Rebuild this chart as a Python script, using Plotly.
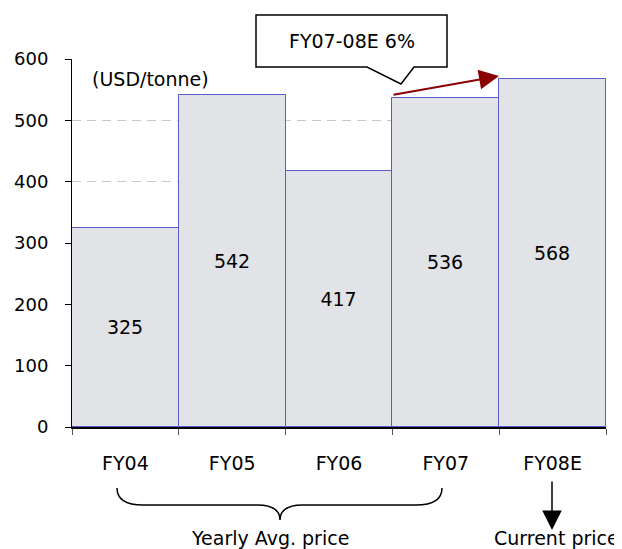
import plotly.graph_objects as go

categories = ["FY04", "FY05", "FY06", "FY07", "FY08E"]
prices = [325, 542, 417, 536, 568]
y_ticks = [0, 100, 200, 300, 400, 500, 600]
callout_text = "FY07-08E 6%"
unit_text = "(USD/tonne)"
brace_text = "Yearly Avg. price"
current_text = "Current price"

# page body has an 8px margin; size the figure so the plot lands where it should
OFF = 8
W, H = 622 - OFF, 549 - OFF
PL, PR, PT, PB = 72, 606, 59, 427          # plot area in window pixels
L, T = PL - OFF, PT - OFF
R, B = W - (PR - OFF), H - (PB - OFF)
PW, PH = PR - PL, PB - PT

def px(x):
    return (x - PL) / PW

def py(y):
    return (PB - y) / PH

FONT = "DejaVu Sans"

fig = go.Figure()
fig.add_trace(go.Bar(
    x=categories, y=prices,
    marker=dict(color="#E1E3E7", line=dict(color="#5A5AC8", width=1)),
    text=[str(v) for v in prices],
    textposition="inside", insidetextanchor="middle",
    textfont=dict(family=FONT, size=19, color="black"),
    hoverinfo="skip",
))

fig.update_layout(
    width=W, height=H,
    margin=dict(l=L, r=R, t=T, b=B, pad=0),
    paper_bgcolor="white", plot_bgcolor="white",
    bargap=0, showlegend=False,
    font=dict(family=FONT, size=19, color="black"),
)
fig.update_xaxes(
    type="category", showline=True, linecolor="black", linewidth=1.5,
    ticks="outside", ticklen=6, tickcolor="#555555", tickson="boundaries",
    showgrid=False, ticklabelstandoff=18, layer="above traces", automargin=False,
    tickfont=dict(family=FONT, size=19, color="black"),
)
fig.update_yaxes(
    range=[0, 600], tickvals=y_ticks, showline=True, linecolor="black", linewidth=1,
    ticks="outside", ticklen=6, tickcolor="black", zeroline=False,
    showgrid=True, gridcolor="#C8C8C8", griddash="9px,6px", gridwidth=1,
    ticklabelstandoff=13, layer="above traces", automargin=False,
    tickfont=dict(family=FONT, size=18, color="black"),
)

# callout box with pointer
callout = ("M{:.5f},{:.5f} L{:.5f},{:.5f} L{:.5f},{:.5f} L{:.5f},{:.5f} L{:.5f},{:.5f} "
           "L{:.5f},{:.5f} L{:.5f},{:.5f} Z").format(
    px(256), py(15), px(447), py(15), px(447), py(67), px(414), py(67),
    px(401), py(84), px(367), py(67), px(256), py(67))
fig.add_shape(type="path", xref="paper", yref="paper", path=callout,
              fillcolor="white", line=dict(color="black", width=1.5), layer="above")
fig.add_annotation(xref="paper", yref="paper", x=px(351.5), y=py(41), text=callout_text,
                   showarrow=False, font=dict(family=FONT, size=19, color="black"),
                   xanchor="center", yanchor="middle")

# brace
brace = ("M{:.5f},{:.5f} Q{:.5f},{:.5f} {:.5f},{:.5f} L{:.5f},{:.5f} "
         "Q{:.5f},{:.5f} {:.5f},{:.5f} Q{:.5f},{:.5f} {:.5f},{:.5f} "
         "L{:.5f},{:.5f} Q{:.5f},{:.5f} {:.5f},{:.5f}").format(
    px(117), py(488), px(117), py(505), px(143), py(505), px(257), py(505),
    px(280), py(505), px(280), py(520), px(280), py(505), px(303), py(505),
    px(416), py(505), px(442), py(505), px(442), py(488))
fig.add_shape(type="path", xref="paper", yref="paper", path=brace,
              line=dict(color="black", width=1.5))

# growth arrow (dark red) from FY07 to FY08E
fig.add_annotation(xref="paper", yref="paper", x=px(499), y=py(76),
                   axref="pixel", ayref="pixel", ax=392 - 499, ay=95 - 76,
                   text="", showarrow=True, arrowhead=2, arrowsize=2, arrowwidth=2,
                   arrowcolor="#8B0000")

# current price arrow
fig.add_annotation(xref="paper", yref="paper", x=px(552), y=py(530),
                   axref="pixel", ayref="pixel", ax=0, ay=480 - 530,
                   text="", showarrow=True, arrowhead=2, arrowsize=2.6, arrowwidth=1.5,
                   arrowcolor="black")

fig.add_annotation(xref="paper", yref="paper", x=px(90), y=py(79), text=unit_text,
                   showarrow=False, xanchor="left", yanchor="middle",
                   font=dict(family=FONT, size=19, color="black"))
fig.add_annotation(xref="paper", yref="paper", x=px(270), y=py(538), text=brace_text,
                   showarrow=False, xanchor="center", yanchor="middle",
                   font=dict(family=FONT, size=19, color="black"))
fig.add_annotation(xref="paper", yref="paper", x=px(556), y=py(538), text=current_text,
                   showarrow=False, xanchor="center", yanchor="middle",
                   font=dict(family=FONT, size=19, color="black"))

fig.write_html("out.html")
